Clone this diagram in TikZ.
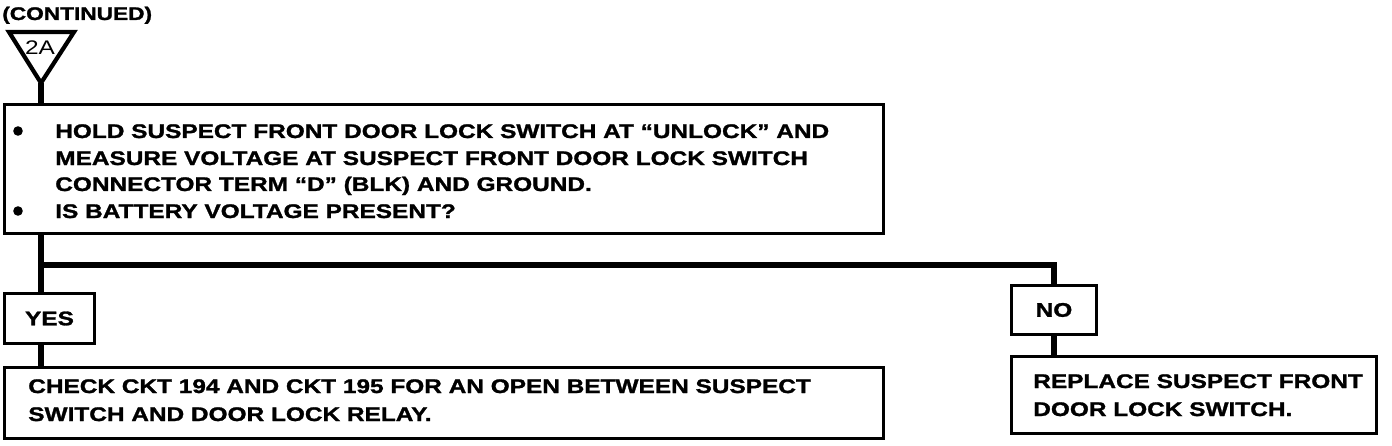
\documentclass[tikz,border=0pt]{standalone}
\usepackage{fontspec}
\setmainfont{Liberation Sans}[FakeStretch=1.24,BoldFeatures={FakeBold=1.4}]

\begin{document}
\begin{tikzpicture}[x=0.025cm,y=-0.025cm,font=\bfseries\fontsize{14}{19}\selectfont,
  box/.style={draw,line width=2.1pt,inner sep=0pt,anchor=north west},
  wire/.style={line width=4.3pt,line join=miter},
  txt/.style={anchor=base west,inner sep=0pt},
  dot/.style={circle,fill,inner sep=0pt,minimum size=0.24cm}]
\useasboundingbox (0,0) rectangle (1392,446);
\node[txt,font=\bfseries\fontsize{13}{16}\selectfont] (cont) at (2,20) {(CONTINUED)};
\draw[line width=3pt,line join=miter] (9,32) -- (74,32) -- (41,83) -- cycle;
\coordinate (apex) at (41,83);
\node[inner sep=0pt,font=\fontsize{14}{16}\selectfont] (tag) at (40,48) {2A};
\node[box,minimum width=21.975cm,minimum height=3.225cm] (test) at (3,103) {};
\node[dot] (b1) at (18,131) {};
\node[txt] (t1) at (55,138) {HOLD SUSPECT FRONT DOOR LOCK SWITCH AT “UNLOCK” AND};
\node[txt] (t2) at (55,165) {MEASURE VOLTAGE AT SUSPECT FRONT DOOR LOCK SWITCH};
\node[txt] (t3) at (55,191) {CONNECTOR TERM “D” (BLK) AND GROUND.};
\node[dot] (b2) at (18,211) {};
\node[txt] (t4) at (55,218) {IS BATTERY VOLTAGE PRESENT?};
\coordinate (split) at (41,265);
\node[box,minimum width=2.25cm,minimum height=1.25cm] (yes) at (3,292) {};
\node[inner sep=0pt] (yesl) at (yes.center) {YES};
\node[box,minimum width=21.975cm,minimum height=1.775cm] (check) at (3,366) {};
\node[txt] (c1) at (28,393) {CHECK CKT 194 AND CKT 195 FOR AN OPEN BETWEEN SUSPECT};
\node[txt] (c2) at (28,421) {SWITCH AND DOOR LOCK RELAY.};
\node[box,minimum width=2.125cm,minimum height=1.225cm] (no) at (1010,284) {};
\node[inner sep=0pt] (nol) at (no.center) {NO};
\node[box,minimum width=9.125cm,minimum height=1.925cm] (fix) at (1010,355) {};
\node[txt] (r1) at (1033,388) {REPLACE SUSPECT FRONT};
\node[txt] (r2) at (1033,416) {DOOR LOCK SWITCH.};
\draw[wire] (apex) -- (apex |- test.north);
\draw[wire] (test.south -| split) -- (yes.north -| split);
\draw[wire] (split) -| (no.north);
\draw[wire] (yes.south -| split) -- (check.north -| split);
\draw[wire] (no.south) -- (no.south |- fix.north);
\end{tikzpicture}
\end{document}
